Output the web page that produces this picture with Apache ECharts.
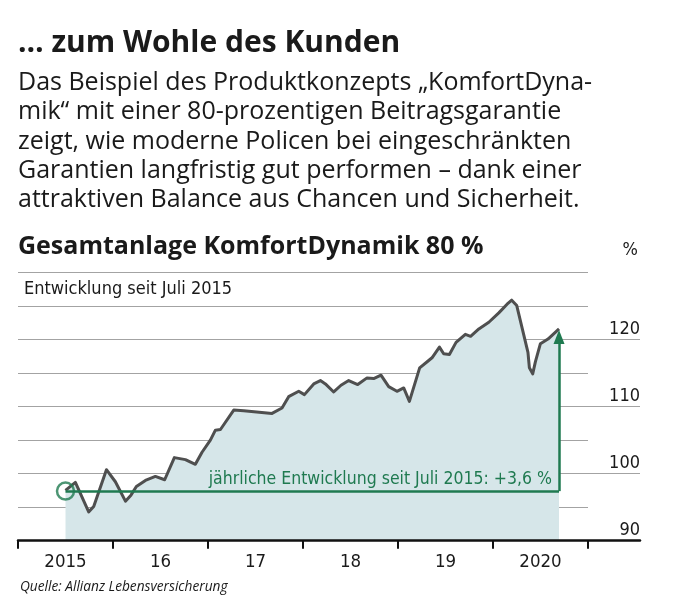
<!DOCTYPE html>
<html>
<head>
<meta charset="utf-8">
<script src="https://cdn.jsdelivr.net/npm/echarts@6/dist/echarts.min.js"></script>
<style>
html,body{margin:0;padding:0;background:#fff;}
#chart{width:676px;height:604px;}
</style>
</head>
<body>
<div id="chart"></div>
<script>
// ---- data ----
const headline = '… zum Wohle des Kunden';
const introLines = [
  'Das Beispiel des Produktkonzepts „KomfortDyna-',
  'mik“ mit einer 80-prozentigen Beitragsgarantie',
  'zeigt, wie moderne Policen bei eingeschränkten',
  'Garantien langfristig gut performen – dank einer',
  'attraktiven Balance aus Chancen und Sicherheit.'
];
const chartTitle = 'Gesamtanlage KomfortDynamik 80 %';
const chartSubtitle = 'Entwicklung seit Juli 2015';
const unitLabel = '%';
const sourceText = 'Quelle: Allianz Lebensversicherung';
const yearLabels = ['2015', '16', '17', '18', '19', '2020'];

// time in decimal years, value of the fund (index)
const times = [
  2015.500, 2015.604, 2015.744, 2015.797, 2015.931, 2016.025, 2016.131, 2016.189,
  2016.246, 2016.341, 2016.446, 2016.544, 2016.646, 2016.762, 2016.867, 2016.937,
  2017.025, 2017.078, 2017.131, 2017.271, 2017.376, 2017.674, 2017.779, 2017.849,
  2017.955, 2018.015, 2018.113, 2018.183, 2018.236, 2018.323, 2018.400, 2018.481,
  2018.576, 2018.674, 2018.744, 2018.821, 2018.902, 2018.989, 2019.060, 2019.120,
  2019.228, 2019.323, 2019.358, 2019.436, 2019.481, 2019.541, 2019.611, 2019.709,
  2019.764, 2019.851, 2019.956, 2020.061, 2020.148, 2020.197, 2020.250, 2020.368,
  2020.383, 2020.418, 2020.446, 2020.499, 2020.579, 2020.695
];
const values = [
  97.5, 98.7, 94.3, 95.1, 100.6, 98.8, 95.9, 96.8,
  98.1, 99.0, 99.6, 99.1, 102.4, 102.1, 101.4, 103.2,
  105.0, 106.5, 106.6, 109.5, 109.4, 109.0, 109.8, 111.5,
  112.3, 111.8, 113.4, 113.9, 113.4, 112.2, 113.2, 113.9,
  113.3, 114.3, 114.2, 114.7, 113.0, 112.3, 112.8, 110.8,
  115.8, 116.9, 117.3, 118.9, 117.9, 117.8, 119.6, 120.8,
  120.5, 121.6, 122.6, 124.0, 125.3, 125.9, 125.1, 118.1,
  115.8, 114.9, 116.7, 119.4, 120.1, 121.6
];

// annotation: yearly growth since July 2015
const annotationText = 'jährliche Entwicklung seit Juli 2015: +3,6 %';
const annoStart = [2015.5, 97.4];
const annoEnd = [2020.695, 97.4];
const annoArrowTip = [2020.695, 120.4];

// ---- styles ----
const GREEN = '#1f7a50';
const NARROW = '"Liberation Sans Narrow", "DejaVu Sans Condensed", "Roboto", sans-serif';
const SANS = '"Open Sans", "Noto Sans", sans-serif';
const TXT = '#1a1a1a';

const chart = echarts.init(document.getElementById('chart'), null, {renderer: 'canvas'});

const seriesData = times.map((t, i) => [t, values[i]]);

chart.setOption({
  animation: false,
  backgroundColor: '#fff',
  title: [
    {text: headline, left: 18, top: 28.5, padding: 0,
      textStyle: {fontFamily: SANS, fontWeight: 'bold', fontSize: 30, color: TXT}},
    {text: introLines.join('\n'), left: 18, top: 68, padding: 0,
      textStyle: {fontFamily: SANS, fontWeight: 'normal', fontSize: 25, lineHeight: 29.4, color: TXT}},
    {text: chartTitle, left: 18, top: 234, padding: 0,
      textStyle: {fontFamily: SANS, fontWeight: 'bold', fontSize: 25, color: TXT}},
    {text: chartSubtitle, left: 24, top: 280.5, padding: 0,
      textStyle: {fontFamily: NARROW, fontWeight: 'normal', fontSize: 18, color: TXT}},
    {text: unitLabel, right: 38, top: 241, padding: 0,
      textStyle: {fontFamily: NARROW, fontWeight: 'normal', fontSize: 18, color: TXT}},
    {text: sourceText, left: 20, top: 580, padding: 0,
      textStyle: {fontFamily: SANS, fontStyle: 'italic', fontWeight: 'normal', fontSize: 13.7, color: TXT}}
  ],
  grid: [
    // main plot (data + minor gridlines)
    {left: 18, right: 88, top: 272.7, bottom: 63.3},
    // wide grid: major gridlines, value labels, long axis line
    {left: 18, right: 36, top: 339.3, bottom: 63.3}
  ],
  xAxis: [
    {type: 'value', gridIndex: 0, min: 2015, max: 2021, position: 'top', show: false},
    {type: 'category', gridIndex: 0, position: 'bottom', data: yearLabels, boundaryGap: true,
      axisLine: {show: false, onZero: false},
      axisTick: {show: true, length: 8, alignWithLabel: false, lineStyle: {color: '#111', width: 2}},
      axisLabel: {show: true, margin: 11.5, color: TXT, fontFamily: NARROW, fontSize: 18.5},
      splitLine: {show: false}, z: 5},
    {type: 'value', gridIndex: 1, min: 0, max: 1, position: 'bottom',
      axisLine: {show: true, onZero: false, lineStyle: {color: '#111', width: 2.5}},
      axisTick: {show: false}, axisLabel: {show: false}, splitLine: {show: false}, z: 5}
  ],
  yAxis: [
    {type: 'value', gridIndex: 0, min: 90, max: 130, interval: 5, position: 'left',
      axisLine: {show: false}, axisTick: {show: false}, axisLabel: {show: false},
      splitLine: {show: true, lineStyle: {color: '#a3a3a3', width: 1}}},
    {type: 'value', gridIndex: 1, min: 90, max: 120, interval: 10, position: 'right',
      axisLine: {show: false}, axisTick: {show: false},
      axisLabel: {show: true, inside: false, margin: 0, align: 'right', verticalAlign: 'bottom',
        padding: [0, 0, 1, 0], color: TXT, fontFamily: NARROW, fontSize: 18},
      splitLine: {show: true, lineStyle: {color: '#a3a3a3', width: 1}}}
  ],
  series: [
    {
      type: 'line', xAxisIndex: 0, yAxisIndex: 0, data: seriesData,
      symbol: 'none', smooth: false, silent: true,
      lineStyle: {color: '#4f4f4f', width: 3, join: 'round'},
      areaStyle: {color: '#d6e6e9', opacity: 1, origin: 'start'},
      z: 2,
      markLine: {
        silent: true, animation: false,
        lineStyle: {color: GREEN, width: 2.5, type: 'solid'},
        emphasis: {disabled: true},
        data: [
          [
            {coord: annoStart, symbol: 'none',
              label: {show: true, position: 'insideEndTop', formatter: annotationText,
                color: GREEN, fontFamily: NARROW, fontSize: 17.5, distance: [7, 3]}},
            {coord: annoEnd, symbol: 'none'}
          ],
          [
            {coord: annoEnd, symbol: 'none', label: {show: false}},
            {coord: annoArrowTip, symbol: 'triangle', symbolSize: [11, 14]}
          ]
        ]
      }
    },
    {
      type: 'scatter', xAxisIndex: 0, yAxisIndex: 0, data: [annoStart],
      symbol: 'circle', symbolSize: 17, silent: true, z: 4,
      itemStyle: {color: 'rgba(0,0,0,0)', borderColor: GREEN, borderWidth: 2.5}
    }
  ]
});
</script>
</body>
</html>
